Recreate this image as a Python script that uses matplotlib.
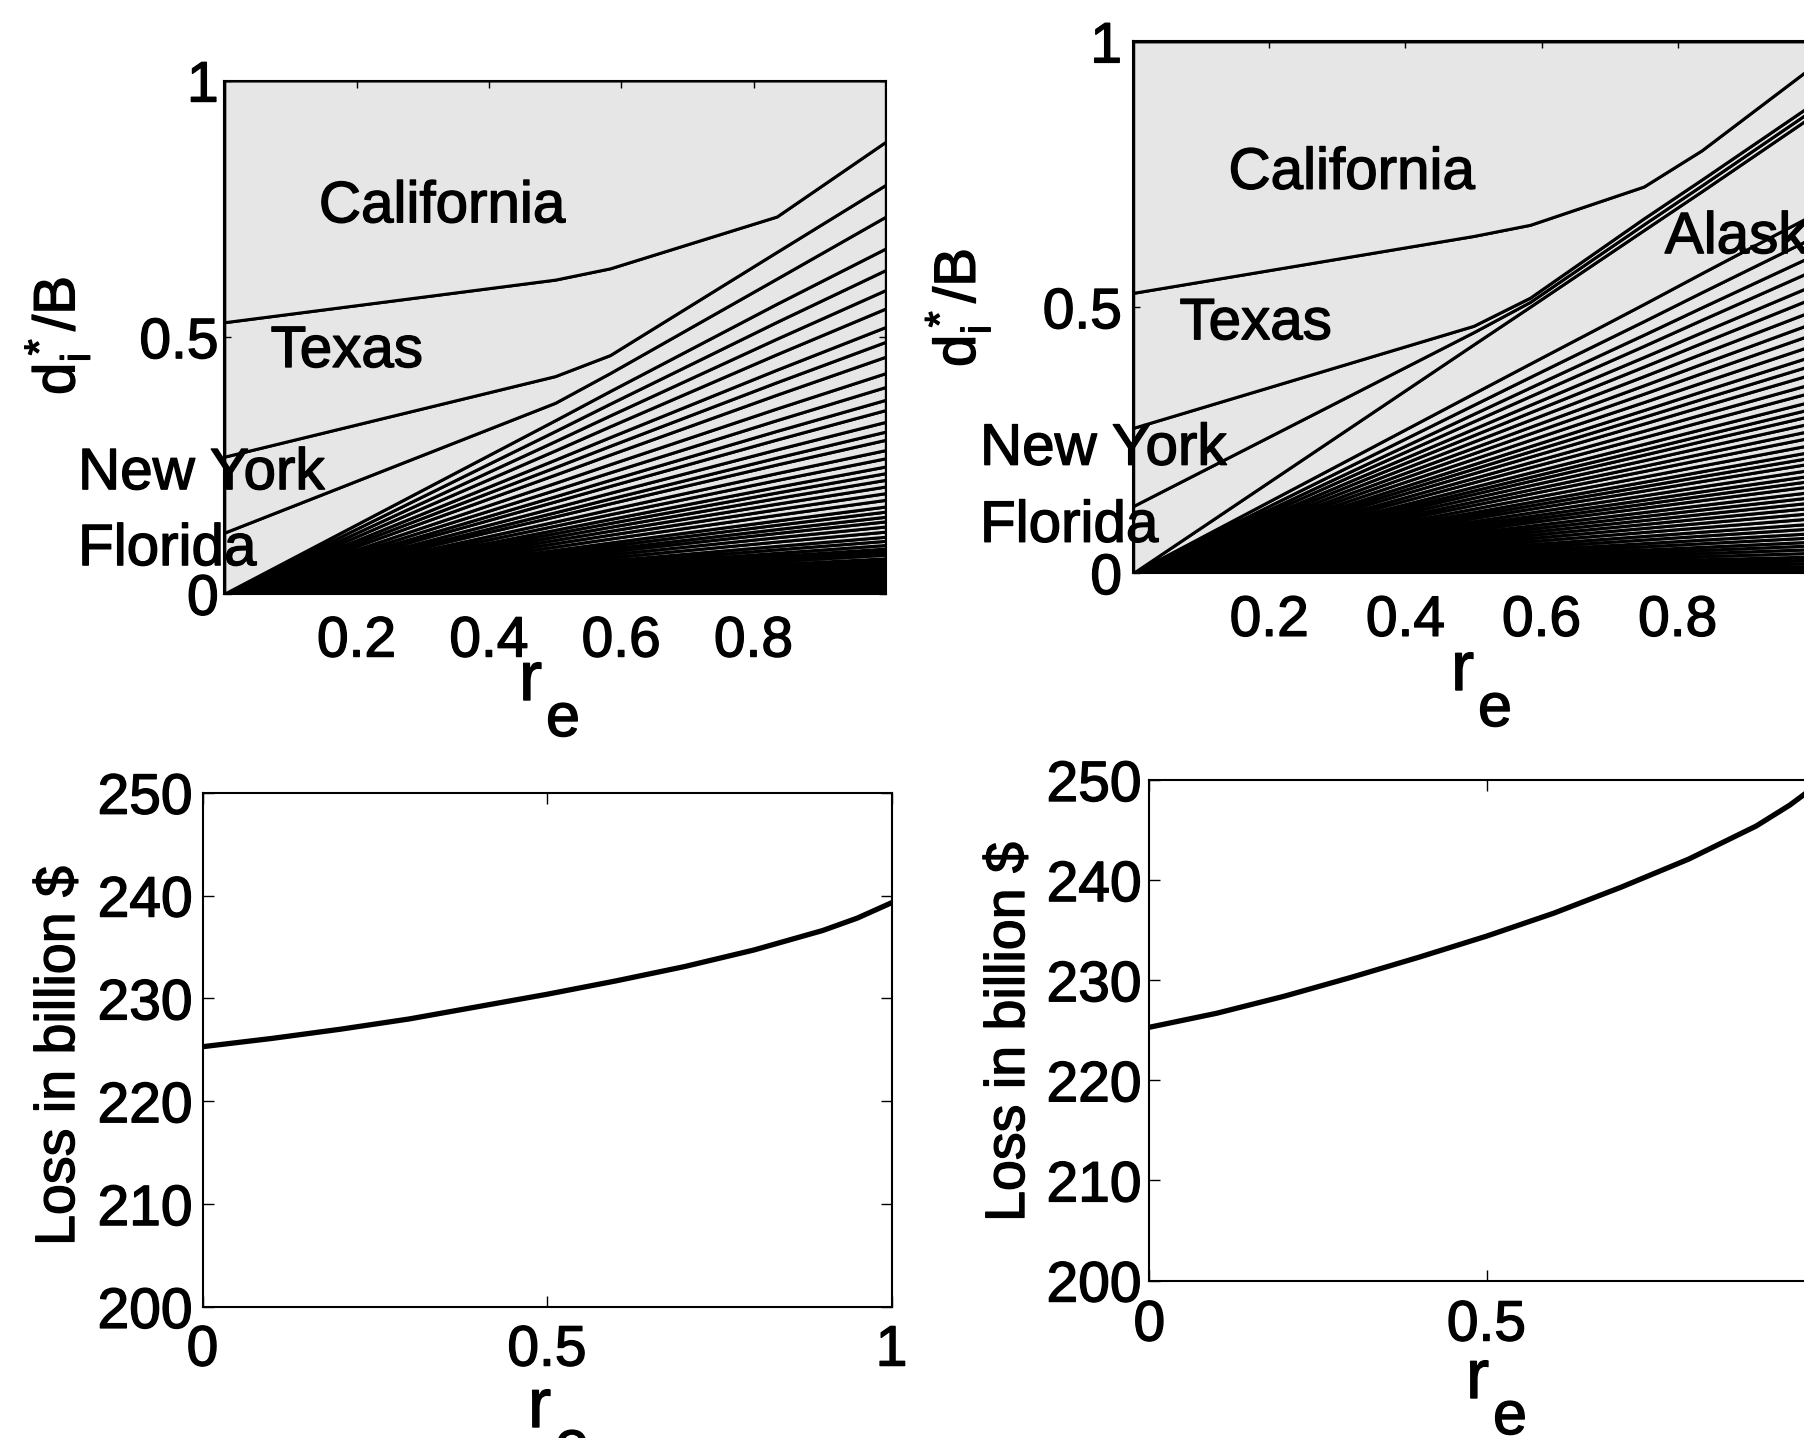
import numpy as np
import matplotlib.pyplot as plt
import matplotlib.patheffects as pe

plt.rcParams['font.family'] = ['Liberation Sans', 'DejaVu Sans']
plt.rcParams['mathtext.fontset'] = 'custom'
plt.rcParams['mathtext.rm'] = 'Liberation Sans'
plt.rcParams['mathtext.it'] = 'Liberation Sans'
plt.rcParams['mathtext.bf'] = 'Liberation Sans:bold'

W, H = 1804, 1438

# ---- top left : allocation d_i*/B versus r_e ----
re_a = [0, 0.5, 0.583, 0.835, 1.0]
small_top_a = [0, 0.338, 0.395, 0.565, 0.673]     # top of the small states
florida_a = [0.119, 0.372, 0.430, 0.614, 0.735]   # cumulative tops
newyork_a = [0.267, 0.424, 0.465, 0.666, 0.797]
texas_a = [0.529, 0.612, 0.634, 0.735, 0.881]
california_a = [1, 1, 1, 1, 1]
# boundaries between the small states at r_e = 1
small_bounds_a = [0.673, 0.631, 0.592, 0.556, 0.520, 0.491, 0.462, 0.430, 0.403, 0.378,
                  0.358, 0.335, 0.316, 0.300, 0.280, 0.264, 0.248, 0.235, 0.222, 0.209,
                  0.196, 0.183, 0.170, 0.160, 0.150, 0.141, 0.131, 0.121, 0.111, 0.103,
                  0.095, 0.088, 0.082, 0.076, 0.069, 0.063, 0.057, 0.051, 0.045, 0.040,
                  0.034, 0.029, 0.024, 0.019, 0.014, 0.009, 0.004]

# ---- top right : same with Alaska ----
re_b = [0, 0.5, 0.583, 0.75, 0.835, 1.0]
small_top_b = [0, 0.338, 0.394, 0.506, 0.564, 0.675]
alaska_b = [0, 0.430, 0.501, 0.645, 0.718, 0.862]
florida_b = [0.126, 0.453, 0.510, 0.656, 0.729, 0.873]
newyork_b = [0.273, 0.465, 0.518, 0.667, 0.740, 0.884]
texas_b = [0.527, 0.634, 0.655, 0.727, 0.795, 0.955]
california_b = [1, 1, 1, 1, 1, 1]
small_bounds_b = [0.675, 0.632, 0.598, 0.570, 0.542, 0.518, 0.494, 0.471, 0.450, 0.429,
                  0.409, 0.392, 0.375, 0.357, 0.341, 0.324, 0.310, 0.297, 0.283, 0.269,
                  0.256, 0.242, 0.229, 0.218, 0.207, 0.195, 0.184, 0.174, 0.164, 0.153,
                  0.143, 0.133, 0.123, 0.113, 0.103, 0.093, 0.084, 0.075, 0.067, 0.059,
                  0.052, 0.045, 0.038, 0.031, 0.025, 0.019, 0.013, 0.008, 0.004]

# ---- bottom : loss in billion $ ----
re_c = [0, 0.1, 0.2, 0.3, 0.4, 0.5, 0.6, 0.7, 0.8, 0.9, 0.95, 1.0]
loss_a = [225.3, 226.1, 227.0, 228.0, 229.2, 230.4, 231.7, 233.1, 234.7, 236.6, 237.8, 239.3]
loss_b = [225.3, 226.7, 228.4, 230.3, 232.3, 234.4, 236.7, 239.3, 242.1, 245.4, 247.5, 250.0]


def layers(small_top, small_bounds, big_tops):
    b = np.sort(np.array(small_bounds))
    share = np.diff(np.concatenate([[0], b])) / b[-1]
    small = np.outer(share, small_top)
    tops = np.vstack([small_top] + big_tops)
    return np.vstack([small, np.diff(tops, axis=0)])


def box(l, t, r, b):
    return [l / W, 1 - b / H, (r - l) / W, (b - t) / H]


heavy = [pe.withStroke(linewidth=1.0, foreground='k')]


def ftext(x, y, s, **kw):
    fig.text(x / W, 1 - y / H, s, path_effects=heavy, **kw)


fig = plt.figure(figsize=(W / 100, H / 100), dpi=100)
TS = 41
LS = 42

ax1 = fig.add_axes(box(224.3, 80.5, 885.9, 593.7))
ax2 = fig.add_axes(box(1133.2, 41.4, 1813.9, 573.0))
ax3 = fig.add_axes(box(202.5, 792.7, 891.6, 1306.9))
ax4 = fig.add_axes(box(1149.4, 780.0, 1823.6, 1280.5))

L1 = layers(small_top_a, small_bounds_a, [florida_a, newyork_a, texas_a, california_a])
ax1.stackplot(re_a, L1, colors=['0.9'] * len(L1), edgecolor='k', linewidth=2.2)
L2 = layers(small_top_b, small_bounds_b,
            [alaska_b, florida_b, newyork_b, texas_b, california_b])
ax2.stackplot(re_b, L2, colors=['0.9'] * len(L2), edgecolor='k', linewidth=2.2)

for ax, pady in ((ax1, 4), (ax2, 8)):
    ax.set_xlim(0, 1)
    ax.set_ylim(0, 1)
    ax.set_xticks([0.2, 0.4, 0.6, 0.8])
    ax.set_xticklabels(['0.2', '0.4', '0.6', '0.8'])
    ax.set_yticks([0, 0.5, 1])
    ax.set_yticklabels(['0', '0.5', '1'])
    ax.tick_params(axis='x', direction='in', top=True, length=5, width=1,
                   labelsize=TS, pad=15)
    ax.tick_params(axis='y', direction='in', right=True, length=5, width=1,
                   labelsize=TS, pad=pady)

names_a = [('California', 0.143, 0.753), ('Texas', 0.070, 0.471),
           ('New York', -0.221, 0.233), ('Florida', -0.221, 0.085)]
for s, x, y in names_a:
    ax1.text(x, y, s, fontsize=LS, ha='left', va='center', clip_on=False,
             path_effects=heavy)
names_b = [('California', 0.140, 0.751), ('Texas', 0.068, 0.468),
           ('New York', -0.225, 0.232), ('Florida', -0.225, 0.087),
           ('Alaska', 0.781, 0.630)]
for s, x, y in names_b:
    ax2.text(x, y, s, fontsize=LS, ha='left', va='center', clip_on=False,
             path_effects=heavy)

ax3.plot(re_c, loss_a, 'k', linewidth=3.8)
ax4.plot(re_c, loss_b, 'k', linewidth=3.8)
for ax, padx, pady in ((ax3, 12, 7), (ax4, 13, 5.5)):
    ax.set_xlim(0, 1)
    ax.set_ylim(200, 250)
    ax.set_xticks([0, 0.5, 1])
    ax.set_xticklabels(['0', '0.5', '1'])
    ax.set_yticks([200, 210, 220, 230, 240, 250])
    ax.tick_params(axis='x', direction='in', top=True, length=8, width=1,
                   labelsize=TS, pad=padx)
    ax.tick_params(axis='y', direction='in', right=True, length=8, width=1,
                   labelsize=TS, pad=pady)

for ax in (ax1, ax2, ax3, ax4):
    for sp in ax.spines.values():
        sp.set_linewidth(1.5)
        sp.set_zorder(5)
    for lab in ax.get_xticklabels() + ax.get_yticklabels():
        lab.set_path_effects(heavy)

# axis labels: r with a large subscript e, as in the original
for rx, ry in ((519, 700), (1451, 690), (528, 1427), (1466, 1398)):
    ftext(rx, ry, 'r', fontsize=50, ha='left', va='baseline')
    ftext(rx + 27, ry + 36, 'e', fontsize=44, ha='left', va='baseline')

ftext(57.5, 336, r'd$_i^*$/B', fontsize=42, rotation=90, ha='center', va='center')
ftext(958, 308, r'd$_i^*$/B', fontsize=42, rotation=90, ha='center', va='center')
ftext(60, 1056, 'Loss in billion $', fontsize=40, rotation=90, ha='center', va='center')
ftext(1010, 1032, 'Loss in billion $', fontsize=40, rotation=90, ha='center', va='center')

fig.savefig('out.png', dpi=100)
